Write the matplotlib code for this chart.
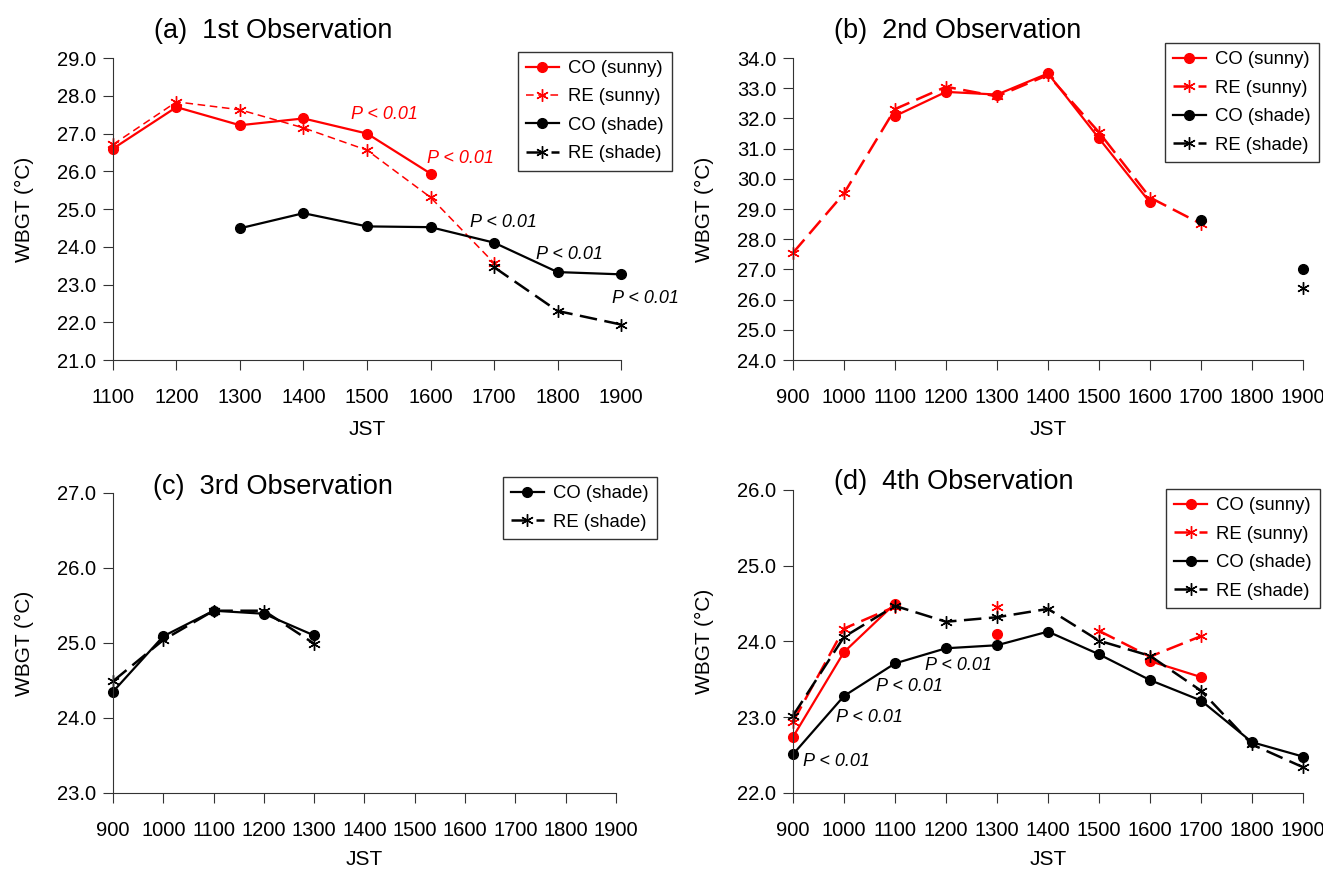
import numpy as np
import matplotlib.pyplot as plt
from matplotlib.ticker import FormatStrFormatter

plt.rcParams['font.family'] = ['Liberation Sans', 'DejaVu Sans']

nan = np.nan

# (a) 1st observation, 1100-1900 JST
jst_a = [1100, 1200, 1300, 1400, 1500, 1600, 1700, 1800, 1900]
co_sunny_a = [26.6, 27.7, 27.22, 27.4, 27.0, 25.94, nan, nan, nan]
re_sunny_a = [26.71, 27.84, 27.63, 27.15, 26.56, 25.31, 23.57, nan, nan]
co_shade_a = [nan, nan, 24.49, 24.89, 24.54, 24.52, 24.11, 23.33, 23.27]
re_shade_a = [nan, nan, nan, nan, nan, nan, 23.46, 22.30, 21.94]

# (b) 2nd observation, 900-1900 JST
jst = [900, 1000, 1100, 1200, 1300, 1400, 1500, 1600, 1700, 1800, 1900]
co_sunny_b = [nan, nan, 32.08, 32.88, 32.79, 33.49, 31.34, 29.22, nan, nan, nan]
re_sunny_b = [27.55, 29.52, 32.31, 33.05, 32.73, 33.44, 31.54, 29.38, 28.51, nan, nan]
co_shade_b = [nan, nan, nan, nan, nan, nan, nan, nan, 28.65, nan, 27.0]
re_shade_b = [nan, nan, nan, nan, nan, nan, nan, nan, nan, nan, 26.38]

# (c) 3rd observation
co_shade_c = [24.35, 25.09, 25.43, 25.39, 25.10, nan, nan, nan, nan, nan, nan]
re_shade_c = [24.49, 25.04, 25.43, 25.43, 24.99, nan, nan, nan, nan, nan, nan]

# (d) 4th observation
co_sunny_d = [22.74, 23.86, 24.50, nan, 24.10, nan, nan, 23.74, 23.53, nan, nan]
re_sunny_d = [22.94, 24.17, 24.46, nan, 24.46, nan, 24.14, 23.80, 24.07, nan, nan]
co_shade_d = [22.51, 23.28, 23.71, 23.91, 23.95, 24.13, 23.83, 23.49, 23.22, 22.67, 22.48]
re_shade_d = [23.02, 24.06, 24.47, 24.26, 24.32, 24.43, 24.01, 23.81, 23.35, 22.64, 22.34]

# significance labels (x, y, colour)
p_a = [(1527, 27.5, 'red'), (1647, 26.35, 'red'), (1715, 24.65, 'black'),
       (1818, 23.8, 'black'), (1938, 22.62, 'black')]
p_d = [(986, 22.42), (1049, 22.99), (1128, 23.40), (1225, 23.68)]

RED = '#ff0000'
long_dash = (0, (7, 3))
star = (6, 2, 0)

fig = plt.figure(figsize=(13.23, 8.69), dpi=100)
ax_a = fig.add_axes([0.0854, 0.5857, 0.3840, 0.3475])
ax_b = fig.add_axes([0.5994, 0.5857, 0.3855, 0.3475])
ax_c = fig.add_axes([0.0854, 0.0875, 0.3802, 0.3452])
ax_d = fig.add_axes([0.5994, 0.0875, 0.3855, 0.3487])


def co(ax, x, y, c, label):
    ax.plot(x, y, color=c, lw=1.6, marker='o', ms=7, label=label, clip_on=False)


def re(ax, x, y, c, label, ls=long_dash, lw=1.8):
    ax.plot(x, y, color=c, lw=lw, ls=ls, marker=star, ms=9, mew=1.0,
            label=label, clip_on=False)


def style(ax, x, ylo, yhi, title, ty, xlab_gap):
    ax.set_xlim(x[0], x[-1])
    ax.set_xticks(x)
    ax.set_ylim(ylo, yhi)
    ax.set_yticks(np.arange(ylo, yhi + 0.5, 1))
    ax.yaxis.set_major_formatter(FormatStrFormatter('%.1f'))
    for s in ['top', 'right']:
        ax.spines[s].set_visible(False)
    for s in ['left', 'bottom']:
        ax.spines[s].set_color('#333333')
    ax.tick_params(direction='out', length=7, labelsize=14.5, color='#333333')
    ax.tick_params(axis='x', pad=13)
    ax.tick_params(axis='y', pad=5)
    ax.set_xlabel('JST', fontsize=15)
    ax.set_ylabel('WBGT (\u00b0C)', fontsize=15)
    w = ax.get_position().width * 1323
    h = ax.get_position().height * 869
    ax.yaxis.set_label_coords(-79 / w, 0.5)
    ax.xaxis.set_label_coords(0.5, -xlab_gap / h)
    ax.text(0.08, ty, title, transform=ax.transAxes, fontsize=19.5,
            ha='left', va='center')


def legend(ax, anchor):
    lg = ax.legend(loc='upper right', bbox_to_anchor=anchor, fontsize=13.3,
                   frameon=True, fancybox=False, edgecolor='black',
                   handlelength=1.75, handletextpad=0.5, labelspacing=0.62,
                   borderpad=0.45, borderaxespad=0)
    lg.get_frame().set_linewidth(1.0)


# (a)
co(ax_a, jst_a, co_sunny_a, RED, 'CO (sunny)')
re(ax_a, jst_a, re_sunny_a, RED, 'RE (sunny)', ls=(0, (5, 3)), lw=1.1)
co(ax_a, jst_a, co_shade_a, 'black', 'CO (shade)')
re(ax_a, jst_a, re_shade_a, 'black', 'RE (shade)')
for x, y, c in p_a:
    ax_a.text(x, y, 'P < 0.01', color=c, style='italic', fontsize=13,
              ha='center', va='center')
style(ax_a, jst_a, 21, 29, '(a)  1st Observation', 1.089, 60)
legend(ax_a, (1.10, 1.021))

# (b)
co(ax_b, jst, co_sunny_b, RED, 'CO (sunny)')
re(ax_b, jst, re_sunny_b, RED, 'RE (sunny)')
co(ax_b, jst, co_shade_b, 'black', 'CO (shade)')
re(ax_b, jst, re_shade_b, 'black', 'RE (shade)')
style(ax_b, jst, 24, 34, '(b)  2nd Observation', 1.089, 60)
legend(ax_b, (1.031, 1.05))

# (c)
co(ax_c, jst, co_shade_c, 'black', 'CO (shade)')
re(ax_c, jst, re_shade_c, 'black', 'RE (shade)')
style(ax_c, jst, 23, 27, '(c)  3rd Observation', 1.02, 57)
legend(ax_c, (1.081, 1.053))

# (d)
co(ax_d, jst, co_sunny_d, RED, 'CO (sunny)')
re(ax_d, jst, re_sunny_d, RED, 'RE (sunny)')
co(ax_d, jst, co_shade_d, 'black', 'CO (shade)')
re(ax_d, jst, re_shade_d, 'black', 'RE (shade)')
for x, y in p_d:
    ax_d.text(x, y, 'P < 0.01', color='black', style='italic', fontsize=13,
              ha='center', va='center')
style(ax_d, jst, 22, 26, '(d)  4th Observation', 1.027, 57)
legend(ax_d, (1.033, 1.003))

fig.savefig('out.png', dpi=100)
